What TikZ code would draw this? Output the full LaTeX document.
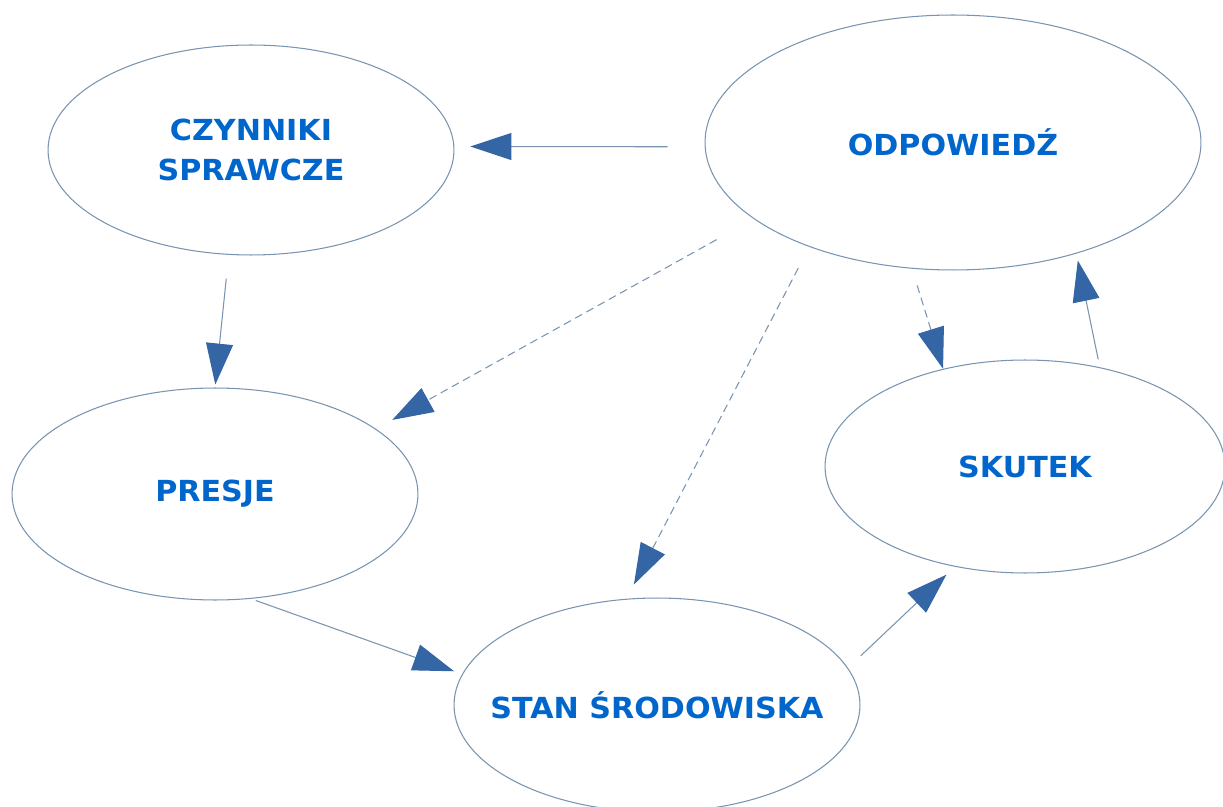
\documentclass[tikz,border=0pt]{standalone}
\usepackage{fontspec}
\setmainfont{DejaVu Sans}[FakeStretch=1.04]
\usetikzlibrary{shapes.geometric,arrows.meta}
\definecolor{textblue}{RGB}{0,102,204}
\definecolor{tipblue}{RGB}{52,101,164}
\definecolor{edgegray}{RGB}{120,148,176}
\tikzset{
  box/.style={ellipse, draw=edgegray, line width=0.6pt, inner sep=-1.5cm, text=textblue,
    font=\fontsize{16.5}{23}\selectfont\bfseries, align=center},
  link/.style={draw=edgegray, line width=0.6pt, -{Triangle[length=0.82cm,width=0.54cm,color=tipblue]}},
  dashlink/.style={link, dash pattern=on 4.5pt off 2.8pt}
}
\begin{document}
\begin{tikzpicture}[x=0.02cm,y=-0.02cm]
    \useasboundingbox (0,0) rectangle (1223,807);
    % the five stages
    \node[box, minimum width=8.12cm, minimum height=4.2cm] (czynniki) at (251,150) {CZYNNIKI\\SPRAWCZE};
    \node[box, minimum width=9.92cm, minimum height=5.1cm] (odp) at (953,142.5) {ODPOWIEDŹ};
    \node[box, minimum width=8.12cm, minimum height=4.24cm] (presje) at (215,494) {PRESJE};
    \node[box, minimum width=8.12cm, minimum height=4.28cm] (stan) at (657,705) {STAN ŚRODOWISKA};
    \node[box, minimum width=8cm, minimum height=4.26cm] (skutek) at (1025,466.5) {SKUTEK};
    % links
    \draw[link, shorten <=0.74cm, shorten >=0.32cm] (odp.181) -- (czynniki.1);
    \draw[link, shorten <=0.48cm, shorten >=0.06cm] (czynniki.258) -- (presje.90);
    \draw[link, shorten <=0.1cm, shorten >=0.17cm] (presje.289) -- (stan.171);
    \draw[link, shorten <=0.35cm, shorten >=0.23cm] (stan.11) -- (skutek.235);
    \draw[link, shorten <=0.16cm, shorten >=0.14cm] (skutek.53) -- (odp.318);
    \draw[dashlink, shorten <=0.85cm, shorten >=0.37cm] (odp.201) -- (presje.22);
    \draw[dashlink, shorten <=0.48cm, shorten >=0.32cm] (odp.216) -- (stan.106);
    \draw[dashlink, shorten <=0.35cm] (odp.252) -- (skutek.130);
\end{tikzpicture}
\end{document}
